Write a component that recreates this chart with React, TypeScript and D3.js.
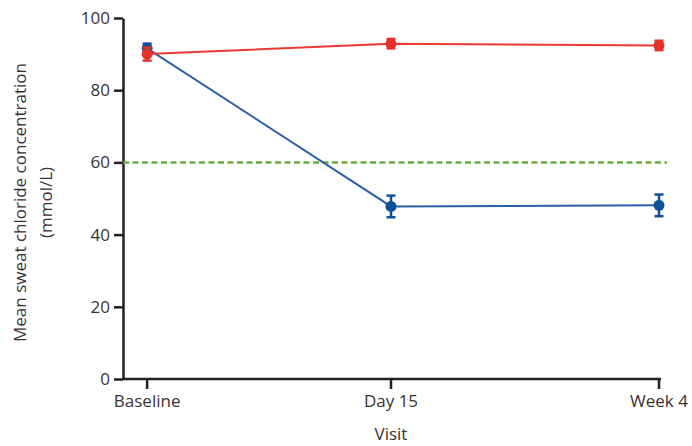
import { useEffect, useRef } from "react";
import * as d3 from "d3";

const visits = ["Baseline", "Day 15", "Week 4"];
const visitPos = [0.045, 0.5, 1]; // share of the x axis where each visit sits
const blueMean = [91.6, 47.8, 48.1];
const blueErr = [1.3, 3.0, 3.0];
const redMean = [90.0, 92.9, 92.4];
const redErr = [1.8, 1.3, 1.3];
const threshold = 60;
const yTicks = [0, 20, 40, 60, 80, 100];

const W = 692;
const H = 446;
const margin = { top: 18, right: 33, bottom: 67, left: 123 };
const textColor = "#3a3232";
const axisColor = "#231f20";
const font = "'Open Sans', sans-serif";

const Chart = () => {
  const svgRef = useRef<SVGSVGElement>(null);

  useEffect(() => {
    const svg = d3.select(svgRef.current);
    svg.selectAll("*").remove();
    const innerW = W - margin.left - margin.right;
    const innerH = H - margin.top - margin.bottom;

    const x = d3
      .scaleOrdinal<string, number>()
      .domain(visits)
      .range(visitPos.map((p) => p * innerW));
    const y = d3.scaleLinear().domain([0, 100]).range([innerH, 0]);

    const g = svg
      .append("g")
      .attr("transform", `translate(${margin.left},${margin.top})`);

    const yAxis = g.append("g").call(
      d3.axisLeft(y).tickValues(yTicks).tickSize(9).tickSizeOuter(0).tickPadding(4)
    );
    const xAxis = g
      .append("g")
      .attr("transform", `translate(0,${innerH})`)
      .call(
        d3
          .axisBottom(d3.scalePoint().domain(visits).range([0, 1]))
          .tickSize(10)
          .tickSizeOuter(0)
          .tickPadding(6)
      );
    xAxis.selectAll(".tick").attr("transform", (d) => `translate(${x(d as string)},0)`);
    xAxis.select(".domain").attr("d", `M0,0H${innerW + 2}`);
    [yAxis, xAxis].forEach((a) => {
      a.select(".domain").attr("stroke", axisColor).attr("stroke-width", 2.5);
      a.selectAll(".tick line").attr("stroke", axisColor).attr("stroke-width", 2.5);
      a.selectAll(".tick text")
        .attr("fill", textColor)
        .style("font-family", font)
        .style("font-size", "17px");
    });

    g.append("line")
      .attr("x1", 0)
      .attr("x2", innerW + 8)
      .attr("y1", y(threshold))
      .attr("y2", y(threshold))
      .attr("stroke", "#6aab3c")
      .attr("stroke-width", 2.5)
      .attr("stroke-dasharray", "6,3.5");

    const series = [
      { mean: blueMean, err: blueErr, color: "#0c4f9c", line: "#2a5fa8" },
      { mean: redMean, err: redErr, color: "#e8312b", line: "#ec3b35" },
    ];

    series.forEach((s) => {
      const pts = visits.map((v, i) => ({ v, m: s.mean[i], e: s.err[i] }));
      const line = d3
        .line<{ v: string; m: number }>()
        .x((d) => x(d.v))
        .y((d) => y(d.m));
      g.append("path")
        .datum(pts)
        .attr("d", line)
        .attr("fill", "none")
        .attr("stroke", s.line)
        .attr("stroke-width", 2);
      const eb = g.append("g").selectAll("g").data(pts).enter().append("g");
      eb.append("line")
        .attr("x1", (d) => x(d.v))
        .attr("x2", (d) => x(d.v))
        .attr("y1", (d) => y(d.m - d.e))
        .attr("y2", (d) => y(d.m + d.e))
        .attr("stroke", s.color)
        .attr("stroke-width", 2.5);
      [-1, 1].forEach((sign) => {
        eb.append("line")
          .attr("x1", (d) => x(d.v) - 4.5)
          .attr("x2", (d) => x(d.v) + 4.5)
          .attr("y1", (d) => y(d.m + sign * d.e))
          .attr("y2", (d) => y(d.m + sign * d.e))
          .attr("stroke", s.color)
          .attr("stroke-width", 2.5);
      });
      eb.append("circle")
        .attr("cx", (d) => x(d.v))
        .attr("cy", (d) => y(d.m))
        .attr("r", 5.5)
        .attr("fill", s.color);
    });

    const title = (txt: string, yy: number) =>
      svg
        .append("text")
        .attr("transform", "rotate(-90)")
        .attr("x", -(margin.top + innerH / 2 + 4))
        .attr("y", yy)
        .attr("text-anchor", "middle")
        .attr("fill", textColor)
        .style("font-family", font)
        .style("font-size", "17px")
        .text(txt);
    title("Mean sweat chloride concentration", 26);
    title("(mmol/L)", 52);
    svg
      .append("text")
      .attr("x", margin.left + x(visits[1]))
      .attr("y", 440)
      .attr("text-anchor", "middle")
      .attr("fill", textColor)
      .style("font-family", font)
      .style("font-size", "17px")
      .text("Visit");
  }, []);

  return (
    <svg
      ref={svgRef}
      width={W}
      height={H}
      style={{ position: "absolute", left: 0, top: 0 }}
    ></svg>
  );
};

export default function App() {
  return <Chart />;
}
